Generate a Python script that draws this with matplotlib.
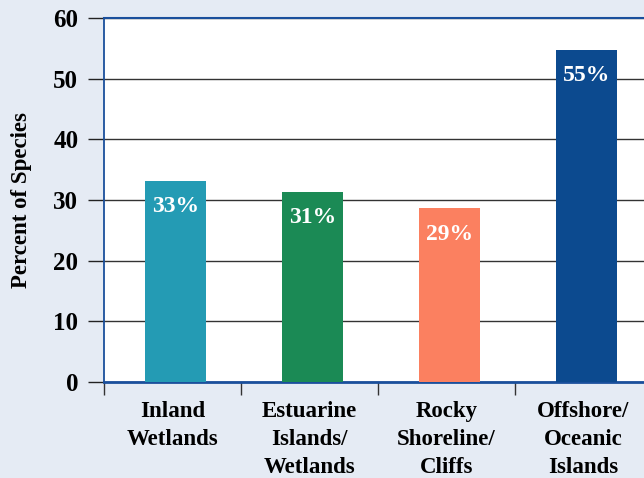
import numpy as np
import matplotlib.pyplot as plt

# data
categories = ["Inland\nWetlands", "Estuarine\nIslands/\nWetlands", "Rocky\nShoreline/\nCliffs", "Offshore/\nOceanic\nIslands"]
percent = [33.2, 31.4, 28.6, 54.7]
bar_labels = ["33%", "31%", "29%", "55%"]
y_ticks = [0, 10, 20, 30, 40, 50, 60]

colors = ["#249bb4", "#1b8a55", "#fb8060", "#0c4a8f"]
bg = "#e5ebf4"
spine_col = "#1a4f9c"

plt.rcParams['font.family'] = ['Liberation Serif', 'DejaVu Serif']
plt.rcParams['font.weight'] = 'bold'

fig = plt.figure(figsize=(6.44, 4.78), dpi=100)
fig.patch.set_facecolor(bg)
W, H = 644, 478
# axes runs off the right edge like the original
ax = fig.add_axes([104 / W, (H - 382) / H, (652 - 104) / W, (382 - 18) / H])
ax.set_facecolor("white")

x = np.arange(len(categories))
bars = ax.bar(x + 0.02, percent, width=0.445, color=colors, zorder=3)

for b, lab in zip(bars, bar_labels):
    ax.annotate(lab, (b.get_x() + b.get_width() / 2, b.get_height()),
                xytext=(0, -11), textcoords="offset points",
                ha="center", va="top", color="white", fontsize=17, fontweight="semibold", zorder=4)

ax.set_xlim(-0.5, 3.5)
ax.set_ylim(0, 60)
ax.set_yticks(y_ticks)
ax.yaxis.grid(True, color="#333333", linewidth=1, zorder=0)

ax.set_xticks(x)
ax.set_xticklabels(categories, fontsize=16.5, fontweight="bold", linespacing=1.42)
ax.set_xticks([-0.5, 0.5, 1.5, 2.5], minor=True)
ax.tick_params(axis="x", which="major", length=0, pad=14)
ax.tick_params(axis="x", which="minor", length=9.5, width=1, color="#333333", direction="out")
ax.tick_params(axis="y", length=11.5, width=1, color="#222222", pad=7, labelsize=18)
for t in ax.get_yticklabels():
    t.set_fontweight("bold")

ax.set_ylabel("Percent of Species", fontsize=16.5, fontweight="bold", labelpad=15)

for side in ["left", "top", "bottom"]:
    ax.spines[side].set_color(spine_col)
ax.spines["left"].set_linewidth(1.3)
ax.spines["top"].set_linewidth(1.5)
ax.spines["bottom"].set_linewidth(2)
ax.spines["right"].set_visible(False)

fig.savefig("out.png", dpi=100, facecolor=bg)
